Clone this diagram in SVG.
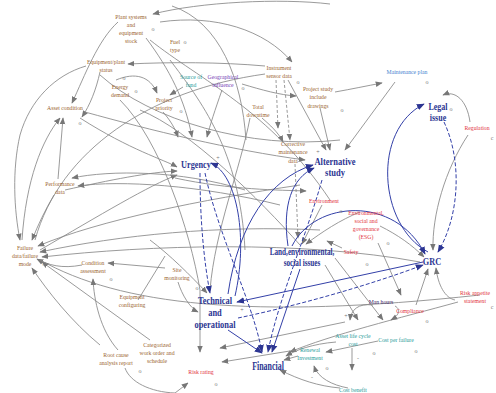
<svg xmlns="http://www.w3.org/2000/svg" width="496" height="393" viewBox="0 0 496 393">
<style>
text{font-family:"Liberation Serif","Times New Roman",serif;text-anchor:middle}
.br text{font-size:7px;fill:#9b6530}
.bl text{font-size:10px;font-weight:bold;fill:#2c3592}
.rd text{font-size:7px;fill:#e2323c}
.tl text{font-size:7px;fill:#1f9c9a}
.g{fill:none;stroke:#888;stroke-width:0.85;marker-end:url(#ag)}
.gn{fill:none;stroke:#888;stroke-width:0.85}
.gd{fill:none;stroke:#888;stroke-width:0.85;stroke-dasharray:3 2;marker-end:url(#ag)}
.b{fill:none;stroke:#3340a8;stroke-width:1;marker-end:url(#ab)}
.bd{fill:none;stroke:#3340a8;stroke-width:1;stroke-dasharray:4 2;marker-end:url(#ab)}
.mk{font-size:6px;fill:#777}
</style>
<defs>
<marker id="ag" viewBox="0 0 10 10" refX="9" refY="5" markerWidth="7" markerHeight="7" orient="auto" markerUnits="userSpaceOnUse"><path d="M0,1 L10,5 L0,9 Z" fill="#777"/></marker>
<marker id="ab" viewBox="0 0 10 10" refX="9" refY="5" markerWidth="8" markerHeight="8" orient="auto" markerUnits="userSpaceOnUse"><path d="M0,1 L10,5 L0,9 Z" fill="#2c3592"/></marker>
</defs>
<rect width="496" height="393" fill="#ffffff"/>
<g id="connectors">
<path class="g" d="M330,4 C280,-2 200,2 153,14"/>
<path class="g" d="M160,22 C215,14 265,30 292,62"/>
<path class="gn" d="M172,6 C220,22 242,80 246,140"/>
<path class="g" d="M118,22 C98,40 85,75 72,103"/>
<path class="g" d="M146,38 C170,70 185,100 192,137"/>
<path class="g" d="M265,66 C220,62 170,62 128,64"/>
<path class="g" d="M100,72 C96,90 90,105 82,117"/>
<path class="g" d="M86,66 C55,75 30,100 20,135 C12,170 14,210 20,240"/>
<path class="g" d="M116,80 C135,72 150,76 157,93"/>
<path class="g" d="M183,87 L170,95"/>
<path class="g" d="M163,112 C170,120 175,128 178,137"/>
<path class="g" d="M222,90 C215,110 210,125 207,137"/>
<path class="g" d="M242,84 C262,90 280,95 296,96"/>
<path class="g" d="M335,92 C352,89 366,86 382,83"/>
<path class="g" d="M395,82 L345,150"/>
<path class="g" d="M320,108 L330,150"/>
<path class="g" d="M288,80 L326,150"/>
<path class="gd" d="M276,80 L278,128"/>
<path class="gd" d="M284,80 L290,140"/>
<path class="g" d="M262,118 C270,125 278,132 283,142"/>
<path class="g" d="M470,122 C467,100 455,90 443,95"/>
<path class="g" d="M468,135 C445,170 432,215 433,250"/>
<path class="gn" d="M35,240 C60,150 150,90 265,74"/>
<path class="gn" d="M170,60 C200,100 240,150 245,250"/>
<path class="gn" d="M120,100 C160,140 190,230 200,290"/>
<path class="gn" d="M250,118 C240,170 215,230 210,290"/>
<path class="gn" d="M100,75 C150,120 250,150 340,140"/>
<path class="gn" d="M150,40 C200,80 270,110 330,200"/>
<path class="gn" d="M140,110 C190,130 260,200 300,245"/>
<path class="g" d="M85,112 C150,130 230,150 305,160"/>
<path class="g" d="M80,118 C130,150 165,160 177,167"/>
<path class="g" d="M65,190 C110,180 150,172 177,171"/>
<path class="g" d="M40,250 C100,215 150,185 177,175"/>
<path class="g" d="M175,178 C230,190 280,190 306,191"/>
<path class="gd" d="M295,164 L298,238"/>
<path class="g" d="M58,179 L63,118"/>
<path class="g" d="M22,240 C26,180 42,140 60,118"/>
<path class="g" d="M245,190 C180,170 110,170 72,178"/>
<path class="g" d="M280,205 C200,185 120,180 78,186"/>
<path class="g" d="M54,195 C45,210 38,225 32,240"/>
<path class="g" d="M300,185 C200,200 100,220 38,246"/>
<path class="g" d="M320,230 C220,225 120,235 40,252"/>
<path class="g" d="M420,262 C300,240 150,245 42,257"/>
<path class="g" d="M82,265 C62,269 48,265 37,259"/>
<path class="g" d="M165,268 L108,263"/>
<path class="g" d="M100,345 C72,322 48,292 32,268"/>
<path class="g" d="M150,340 L42,262"/>
<path class="gn" d="M40,260 C120,305 250,320 480,295"/>
<path class="g" d="M118,350 C100,330 94,300 93,279"/>
<path class="gn" d="M125,368 C130,382 150,392 175,393"/>
<path class="gn" d="M138,300 L165,256"/>
<path class="g" d="M322,205 L302,244"/>
<path class="g" d="M360,212 C340,220 322,232 306,244"/>
<path class="g" d="M342,248 L327,241"/>
<path class="g" d="M380,226 C398,235 412,245 424,257"/>
<path class="g" d="M378,243 L401,295"/>
<path class="g" d="M416,305 L428,269"/>
<path class="g" d="M455,300 C445,298 438,285 436,268"/>
<path class="g" d="M458,302 C400,318 330,335 290,352"/>
<path class="g" d="M373,305 C358,303 351,310 350,320"/>
<path class="g" d="M325,265 L358,320"/>
<path class="g" d="M335,258 L383,320"/>
<path class="g" d="M395,306 C402,310 398,316 391,320"/>
<path class="g" d="M352,348 L352,370"/>
<path class="g" d="M336,342 C312,344 296,350 286,356"/>
<path class="g" d="M378,341 L326,352"/>
<path class="g" d="M298,356 L284,360"/>
<path class="g" d="M340,388 C318,386 300,380 280,370"/>
<path class="g" d="M348,388 C332,385 318,378 314,366"/>
<path class="g" d="M296,350 L222,362"/>
<path class="g" d="M345,322 L220,348"/>
<path class="g" d="M200,290 L200,352"/>
<path class="g" d="M175,393 L188,383"/>
<path class="g" d="M178,282 C182,295 190,308 198,312"/>
<path class="g" d="M150,240 C170,255 190,275 207,293"/>
<path class="b" d="M428,252 C378,225 372,130 424,104"/>
<path class="bd" d="M444,122 C462,160 460,215 438,252"/>
<path class="b" d="M235,296 C248,240 238,175 211,163"/>
<path class="bd" d="M200,173 C200,220 204,262 210,293"/>
<path class="bd" d="M205,173 C218,235 252,300 262,352"/>
<path class="bd" d="M322,180 C305,240 278,300 268,352"/>
<path class="b" d="M228,294 C238,225 270,178 313,165"/>
<path class="b" d="M288,246 C282,205 292,178 314,168"/>
<path class="b" d="M300,269 L272,352"/>
<path class="b" d="M292,246 C315,200 395,195 425,254"/>
<path class="b" d="M423,262 L237,302"/>
<path class="bd" d="M238,318 C300,305 370,285 423,265"/>
<path class="b" d="M228,330 L262,353"/>
</g>
<g id="n-plant" class="br" transform="translate(131,18.5) scale(0.82,1)"><text>Plant systems<tspan x="0" dy="8.1">and</tspan><tspan x="0" dy="8.1">equipment</tspan><tspan x="0" dy="8.1">stock</tspan></text></g>
<g id="n-fuel" class="br" transform="translate(175,43.5) scale(0.82,1)"><text>Fuel<tspan x="0" dy="8.1">type</tspan></text></g>
<g id="n-equipstatus" class="br" transform="translate(106,64) scale(0.82,1)"><text>Equipment/plant<tspan x="0" dy="8.1">status</tspan></text></g>
<g id="n-energy" class="br" transform="translate(120,89.2) scale(0.82,1)"><text>Energy<tspan x="0" dy="8.1">demand</tspan></text></g>
<g id="n-priority" class="br" transform="translate(164,102.2) scale(0.82,1)"><text>Project<tspan x="0" dy="8.1">priority</tspan></text></g>
<g id="n-asset" class="br" transform="translate(65,110) scale(0.82,1)"><text>Asset condition</text></g>
<g id="n-fund" class="tl" transform="translate(191,78.7) scale(0.82,1)"><text>Source of<tspan x="0" dy="8.1">fund</tspan></text></g>
<g id="n-geo" transform="translate(223,79) scale(0.82,1)"><text style="font-size:7px;fill:#7440b5">Geographical<tspan x="0" dy="8.1">influence</tspan></text></g>
<g id="n-instrument" class="br" transform="translate(279,69.5) scale(0.82,1)"><text>Instrument<tspan x="0" dy="8.1">sensor data</tspan></text></g>
<g id="n-projstudy" class="br" transform="translate(318,91.4) scale(0.82,1)"><text>Project study<tspan x="0" dy="8.1">include</tspan><tspan x="0" dy="8.1">drawings</tspan></text></g>
<g id="n-downtime" class="br" transform="translate(258,109) scale(0.82,1)"><text>Total<tspan x="0" dy="8.1">downtime</tspan></text></g>
<g id="n-corrective" class="br" transform="translate(293,146.4) scale(0.82,1)"><text>Corrective<tspan x="0" dy="8.1">maintenance</tspan><tspan x="0" dy="8.1">data</tspan></text></g>
<g id="n-maintplan" transform="translate(407,73.5) scale(0.82,1)"><text style="font-size:7px;fill:#3f7fcf">Maintenance plan</text></g>
<g id="n-performance" class="br" transform="translate(60,185.5) scale(0.82,1)"><text>Performance<tspan x="0" dy="8.1">data</tspan></text></g>
<g id="n-failure" class="br" transform="translate(25,250) scale(0.82,1)"><text>Failure<tspan x="0" dy="8.1">data/failure</tspan><tspan x="0" dy="8.1">mode</tspan></text></g>
<g id="n-condition" class="br" transform="translate(93,264.7) scale(0.82,1)"><text>Condition<tspan x="0" dy="8.1">assessment</tspan></text></g>
<g id="n-site" class="br" transform="translate(177,272.2) scale(0.82,1)"><text>Site<tspan x="0" dy="8.1">monitoring</tspan></text></g>
<g id="n-config" class="br" transform="translate(132,299) scale(0.82,1)"><text>Equipment<tspan x="0" dy="8.1">configuring</tspan></text></g>
<g id="n-rootcause" class="br" transform="translate(116,357) scale(0.82,1)"><text>Root cause<tspan x="0" dy="8.1">analysis report</tspan></text></g>
<g id="n-categorized" class="br" transform="translate(157,347) scale(0.82,1)"><text>Categorized<tspan x="0" dy="8.1">work order and</tspan><tspan x="0" dy="8.1">schedule</tspan></text></g>
<g id="n-urgency" class="bl" transform="translate(196,168) scale(0.75,1)"><text style="font-size:11px">Urgency</text></g>
<g id="n-alternative" class="bl" transform="translate(335,165) scale(0.85,1)"><text>Alternative<tspan x="0" dy="11.5">study</tspan></text></g>
<g id="n-legal" class="bl" transform="translate(438,109.5) scale(0.8,1)"><text>Legal<tspan x="0" dy="11.5">issue</tspan></text></g>
<g id="n-land" class="bl" transform="translate(302,255) scale(0.72,1)"><text>Land,environmental,<tspan x="0" dy="11.5">social issues</tspan></text></g>
<g id="n-grc" class="bl" transform="translate(432,265) scale(0.75,1)"><text style="font-size:11px">GRC</text></g>
<g id="n-technical" class="bl" transform="translate(215,304) scale(0.8,1)"><text style="font-size:10.5px">Technical<tspan x="0" dy="12">and</tspan><tspan x="0" dy="12">operational</tspan></text></g>
<g id="n-financial" class="bl" transform="translate(268,370) scale(0.66,1)"><text style="font-size:12px">Financial</text></g>
<g id="n-regulation" class="rd" transform="translate(477,130) scale(0.82,1)"><text>Regulation</text></g>
<g id="n-environment" class="rd" transform="translate(324,202.5) scale(0.82,1)"><text>Environment</text></g>
<g id="n-esg" class="rd" transform="translate(366,215) scale(0.82,1)"><text>Environmental,<tspan x="0" dy="8.1">social and</tspan><tspan x="0" dy="8.1">governance</tspan><tspan x="0" dy="8.1">(ESG)</tspan></text></g>
<g id="n-safety" class="rd" transform="translate(351,254) scale(0.82,1)"><text>Safety</text></g>
<g id="n-riskappetite" class="rd" transform="translate(475,295) scale(0.82,1)"><text>Risk appetite<tspan x="0" dy="8.1">statement</tspan></text></g>
<g id="n-compliance" class="rd" transform="translate(410,312.5) scale(0.82,1)"><text>Compliance</text></g>
<g id="n-riskrating" class="rd" transform="translate(201,373.5) scale(0.82,1)"><text>Risk rating</text></g>
<g id="n-manhours" transform="translate(381,303.5) scale(0.82,1)"><text style="font-size:7px;fill:#3b2466">Man hours</text></g>
<g id="n-assetlc" class="tl" transform="translate(353,338) scale(0.82,1)"><text>Asset life cycle<tspan x="0" dy="8.1">cost</tspan></text></g>
<g id="n-costfailure" class="tl" transform="translate(396,341.5) scale(0.82,1)"><text>Cost per failure</text></g>
<g id="n-renewal" class="tl" transform="translate(310,352) scale(0.82,1)"><text>Renewal<tspan x="0" dy="8.1">Investment</tspan></text></g>
<g id="n-costbenefit" class="tl" transform="translate(353,392) scale(0.82,1)"><text>Cost benefit</text></g>
<g id="marks">
<text class="mk" x="153" y="31">o</text>
<text class="mk" x="124" y="80">o</text>
<text class="mk" x="136" y="93">o</text>
<text class="mk" x="80" y="125">o</text>
<text class="mk" x="185" y="44">o</text>
<text class="mk" x="243" y="90">o</text>
<text class="mk" x="298" y="84">o</text>
<text class="mk" x="181" y="113">o</text>
<text class="mk" x="342" y="112">o</text>
<text class="mk" x="278" y="125">o</text>
<text class="mk" x="427" y="84">o</text>
<text class="mk" x="451" y="111">o</text>
<text class="mk" x="492" y="140">c</text>
<text class="mk" x="341" y="213">o</text>
<text class="mk" x="388" y="245">o</text>
<text class="mk" x="367" y="266">o</text>
<text class="mk" x="427" y="323">o</text>
<text class="mk" x="492" y="309">c</text>
<text class="mk" x="374" y="355">o</text>
<text class="mk" x="416" y="353">o</text>
<text class="mk" x="111" y="281">o</text>
<text class="mk" x="44" y="266">o</text>
<text class="mk" x="140" y="373">o</text>
<text class="mk" x="197" y="290">o</text>
<text class="mk" x="216" y="386">o</text>
<text class="mk" x="327" y="370">o</text>
<text class="mk" x="218" y="160">+</text>
<text class="mk" x="318" y="154">+</text>
<text class="mk" x="242" y="312">+</text>
<text class="mk" x="346" y="318">+</text>
<text class="mk" x="358" y="360">-</text>
<text class="mk" x="312" y="379">-</text>
</g>
</svg>
